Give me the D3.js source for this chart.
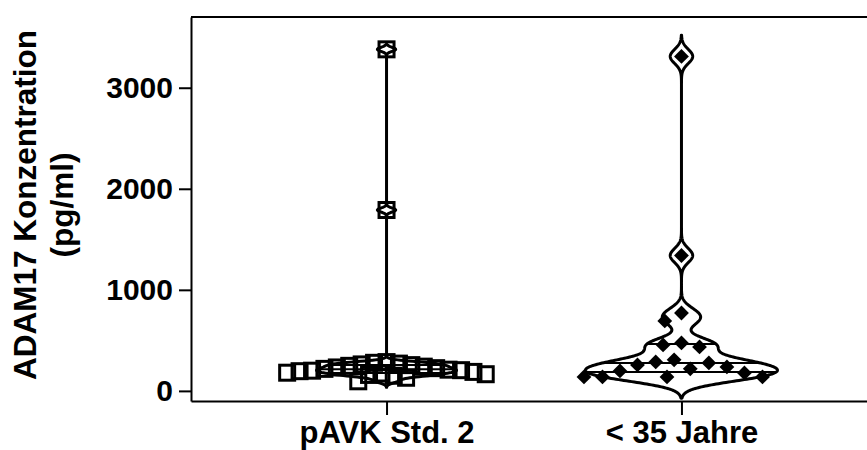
<!DOCTYPE html>
<html>
<head>
<meta charset="utf-8">
<script src="https://cdn.jsdelivr.net/npm/d3@7"></script>
<style>
  html, body { margin: 0; padding: 0; background: #fff; }
  text { font-family: "Liberation Sans", Arial, sans-serif; font-weight: bold; }
</style>
</head>
<body>
<svg id="chart" width="867" height="450"></svg>
<script>
// ---------------- data ----------------
const categories = ["pAVK Std. 2", "< 35 Jahre"];
const pavkValues = [3380, 1790, 285, 278, 270, 262, 255, 248, 240, 232, 225, 218, 210, 205, 200, 195, 188, 180, 172, 165, 158, 150, 130, 95];
const jungValues = [3310, 1340, 771, 692, 475, 455, 435, 307, 287, 277, 257, 237, 218, 198, 178, 138, 138, 138, 138];
const yTicks = [0, 1000, 2000, 3000];
const yTitleLines = ["ADAM17 Konzentration", "(pg/ml)"];

// ---------------- rendering settings ----------------
const W = 867, H = 450;
const plot = { left: 191, right: 877, top: 17, bottom: 401 };
const bandwidths = [20, 70];
const halfWidths = [70, 96];
const swarmGap = [12.5, 18.5];
const groups = [pavkValues, jungValues];

const svg = d3.select("#chart");
svg.append("rect").attr("width", W).attr("height", H).attr("fill", "#fff");

const y = d3.scaleLinear().domain([-100, 3700]).range([plot.bottom, plot.top]);
const x = d3.scalePoint().domain(categories).range([plot.left, plot.right]).padding(0.663);

// ---------------- swarm layout ----------------
function swarm(values, cx, gap) {
  const pts = values.map(v => ({ v, py: y(v) })).sort((a, b) => b.v - a.v);
  const placed = [];
  pts.forEach(p => {
    const near = placed.filter(q => Math.abs(q.py - p.py) < gap);
    const cands = [0];
    near.forEach(q => {
      const dx = Math.sqrt(gap * gap - (q.py - p.py) ** 2);
      cands.push(q.off + dx, q.off - dx);
    });
    cands.sort((a, b) => Math.abs(a) - Math.abs(b) || a - b);
    let off = 0;
    for (const c of cands) {
      const ok = near.every(q => {
        const need = Math.sqrt(gap * gap - (q.py - p.py) ** 2);
        return Math.abs(c - q.off) >= need - 1e-6;
      });
      if (ok) { off = c; break; }
    }
    p.off = off;
    p.px = cx + off;
    placed.push(p);
  });
  return pts;
}

// ---------------- KDE ----------------
function kde(values, h) {
  const lo = d3.min(values) - 3 * h, hi = d3.max(values) + 3 * h;
  const n = 900;
  const grid = d3.range(n + 1).map(i => lo + (hi - lo) * i / n);
  const dens = v => d3.sum(values, xi => Math.exp(-0.5 * ((v - xi) / h) ** 2));
  const pts = grid.map(v => ({ v, d: dens(v) }));
  const maxD = d3.max(pts, p => p.d);
  return { pts, maxD, dens };
}

const gPts = svg.append("g");
const gViol = svg.append("g");

groups.forEach((vals, gi) => {
  const cx = x(categories[gi]);
  const { pts, maxD, dens } = kde(vals, bandwidths[gi]);
  const wScale = d3.scaleLinear().domain([0, maxD]).range([0, halfWidths[gi]]);

  // points
  const sw = swarm(vals, cx, swarmGap[gi]);
  if (gi === 0) {
    gPts.selectAll(null).data(sw).join("rect")
      .attr("x", d => d.px - 7.5).attr("y", d => d.py - 7.5)
      .attr("width", 15).attr("height", 15)
      .attr("fill", "none").attr("stroke", "#000").attr("stroke-width", 3);
  } else {
    const r = 7.4;
    gPts.selectAll(null).data(sw).join("path")
      .attr("d", d => `M${d.px},${d.py - r}L${d.px + r},${d.py}L${d.px},${d.py + r}L${d.px - r},${d.py}Z`)
      .attr("fill", "#000");
  }

  // violin outline
  const area = d3.area()
    .y(p => y(p.v))
    .x0(p => cx - wScale(p.d))
    .x1(p => cx + wScale(p.d))
    .curve(d3.curveLinear);
  gViol.append("path").datum(pts).attr("d", area)
    .attr("fill", "none").attr("stroke", "#000").attr("stroke-width", 3)
    .attr("stroke-linejoin", "round");

  // quartile lines
  const sorted = vals.slice().sort(d3.ascending);
  [0.25, 0.5, 0.75].forEach(q => {
    const qv = d3.quantile(sorted, q);
    const w = wScale(dens(qv));
    gViol.append("line")
      .attr("x1", cx - w).attr("x2", cx + w)
      .attr("y1", y(qv)).attr("y2", y(qv))
      .attr("stroke", "#000").attr("stroke-width", 2);
  });
});

// ---------------- axes ----------------
const yAxis = svg.append("g").attr("transform", `translate(${plot.left},0)`)
  .call(d3.axisLeft(y).tickValues(yTicks).tickFormat(d3.format("d")).tickSize(12).tickSizeOuter(0).tickPadding(6));
const xAxis = svg.append("g").attr("transform", `translate(0,${plot.bottom})`)
  .call(d3.axisBottom(x).tickSize(14).tickSizeOuter(0).tickPadding(0));
[yAxis, xAxis].forEach(a => {
  a.select(".domain").attr("stroke", "#000").attr("stroke-width", 2);
  a.selectAll(".tick line").attr("stroke", "#000").attr("stroke-width", 2);
  a.selectAll(".tick text").attr("fill", "#000")
    .style("font-family", '"Liberation Sans", Arial, sans-serif').style("font-weight", "bold");
});
yAxis.selectAll(".tick text").style("font-size", "30px");
xAxis.selectAll(".tick text").style("font-size", "31px").attr("y", 42).attr("dy", null);

// top frame line
svg.append("line")
  .attr("x1", plot.left).attr("x2", plot.right)
  .attr("y1", y.range()[1]).attr("y2", y.range()[1])
  .attr("stroke", "#000").attr("stroke-width", 2);

// y title
const tcy = (plot.top + plot.bottom) / 2 - 4;
const title = svg.append("text")
  .attr("transform", `translate(0,${tcy}) rotate(-90)`)
  .attr("text-anchor", "middle")
  .style("font-size", "31.5px").attr("fill", "#000");
title.selectAll("tspan").data(yTitleLines).join("tspan")
  .attr("x", 0).attr("y", (d, i) => 36 + i * 37)
  .text(d => d);
</script>
</body>
</html>
